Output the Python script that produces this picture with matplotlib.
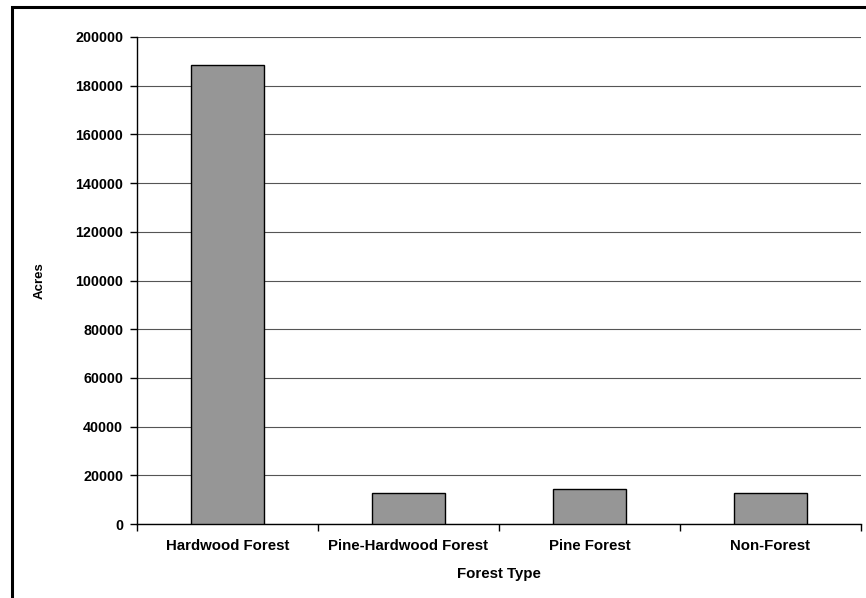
import matplotlib
matplotlib.use("Agg")
import matplotlib.pyplot as plt
from matplotlib.patches import Rectangle

categories = ["Hardwood Forest", "Pine-Hardwood Forest", "Pine Forest", "Non-Forest"]
acres = [188500, 12900, 14200, 12600]
y_ticks = [0, 20000, 40000, 60000, 80000, 100000, 120000, 140000, 160000, 180000, 200000]

plt.rcParams["font.family"] = ["Liberation Sans", "DejaVu Sans"]
plt.rcParams["font.weight"] = "bold"

W, H = 866, 598
fig = plt.figure(figsize=(W / 100, H / 100), dpi=100)
fig.patch.set_facecolor("white")

# outer chart frame (runs past the right and bottom edges)
fig.patches.append(Rectangle((12 / W, -0.05), 1.1, 1 - 7 / H + 0.05,
                             transform=fig.transFigure, fill=False,
                             edgecolor="black", linewidth=2.2))

left, right, top, bottom = 137, 861, 37, 524
ax = fig.add_axes([left / W, 1 - bottom / H, (right - left) / W, (bottom - top) / H])

x = list(range(len(categories)))
ax.bar(x, acres, width=0.4, color="#969696", edgecolor="black", linewidth=1.0, zorder=3)

ax.set_xlim(-0.5, len(categories) - 0.5)
ax.set_ylim(0, 200000)
ax.set_yticks(y_ticks)
ax.set_yticklabels([str(v) for v in y_ticks], fontsize=10.3, fontweight="bold")
ax.set_xticks(x)
ax.set_xticklabels(categories, fontsize=10.8, fontweight="bold")
ax.tick_params(axis="x", length=0, pad=11)
ax.set_xticks([i - 0.5 for i in range(len(categories) + 1)], minor=True)
ax.tick_params(axis="x", which="minor", length=5, width=1, direction="out")
ax.tick_params(axis="y", length=5, width=1, direction="out", pad=5)

ax.yaxis.grid(True, color="#555555", linewidth=0.8, zorder=0)
ax.set_axisbelow(True)
for s in ["top", "right"]:
    ax.spines[s].set_visible(False)
ax.spines["left"].set_linewidth(1.0)
ax.spines["bottom"].set_linewidth(1.0)

ax.set_xlabel("Forest Type", fontsize=10.8, fontweight="bold", labelpad=10)
ax.set_ylabel("Acres", fontsize=9.5, fontweight="bold")
ax.yaxis.set_label_coords((46 - left) / (right - left), 0.5)

fig.savefig("out.png", dpi=100, facecolor="white")
